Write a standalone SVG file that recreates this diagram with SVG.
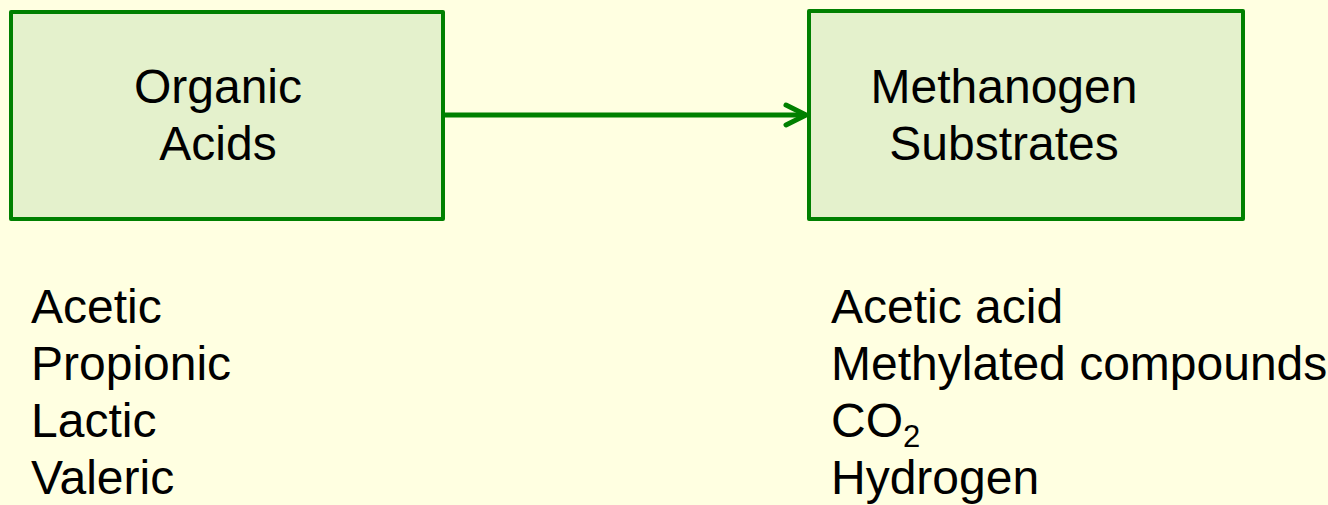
<svg xmlns="http://www.w3.org/2000/svg" width="1328" height="505" viewBox="0 0 1328 505">
<style>
.box{fill:#E4F1CC;stroke:#008000;stroke-width:4;stroke-linejoin:round}
.t{font-family:"Liberation Sans",Arial,sans-serif;font-size:48px;fill:#000}
.c{text-anchor:middle}
.conn{stroke:#008000;stroke-width:5;fill:none}
</style>
<defs>
<marker id="arr" markerUnits="userSpaceOnUse" markerWidth="30" markerHeight="30" viewBox="-25 -15 30 30" refX="0" refY="0" orient="auto">
<path d="M-20,-10 L0,0 L-20,10" fill="none" stroke="#008000" stroke-width="5" stroke-linecap="round" stroke-linejoin="round"/>
</marker>
</defs>
<rect width="1328" height="505" fill="#FFFFE1"/>
<g id="connectors">
<line class="conn" x1="444" y1="115" x2="806" y2="115" marker-end="url(#arr)"/>
</g>
<g id="organic-acids">
<rect class="box" x="11" y="12" width="432" height="207"/>
<text class="t c" x="218" y="103">Organic</text>
<text class="t c" x="218" y="160">Acids</text>
</g>
<g id="methanogen-substrates">
<rect class="box" x="809" y="11" width="434" height="208"/>
<text class="t c" x="1004" y="103">Methanogen</text>
<text class="t c" x="1004" y="160">Substrates</text>
</g>
<g id="acid-list">
<text class="t" x="31" y="323">Acetic</text>
<text class="t" x="31" y="380">Propionic</text>
<text class="t" x="31" y="437">Lactic</text>
<text class="t" x="31" y="494">Valeric</text>
</g>
<g id="substrate-list">
<text class="t" x="831" y="323">Acetic acid</text>
<text class="t" x="831" y="380">Methylated compounds</text>
<text class="t" x="831" y="437">CO<tspan font-size="31" dy="10">2</tspan></text>
<text class="t" x="831" y="494">Hydrogen</text>
</g>
</svg>
